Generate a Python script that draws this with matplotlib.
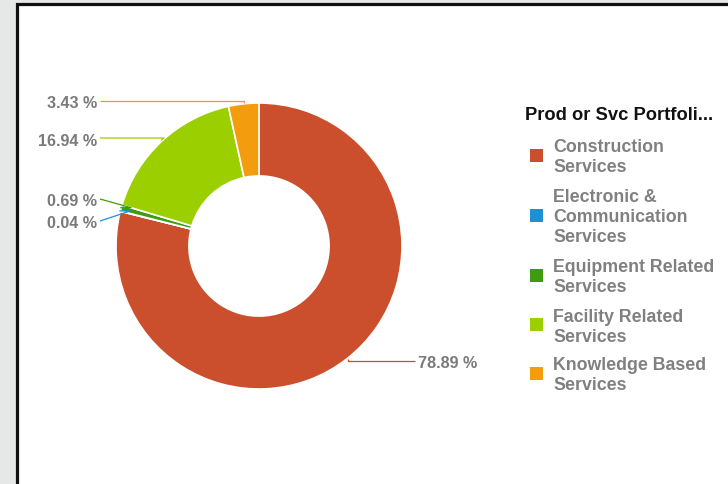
import matplotlib.pyplot as plt
from matplotlib.patches import Rectangle
import numpy as np

# data
categories = ["Construction Services", "Electronic & Communication Services",
              "Equipment Related Services", "Facility Related Services",
              "Knowledge Based Services"]
legend_labels = ["Construction\nServices", "Electronic &\nCommunication\nServices",
                 "Equipment Related\nServices", "Facility Related\nServices",
                 "Knowledge Based\nServices"]
shares = [78.89, 0.04, 0.69, 16.94, 3.43]
colors = ["#cc4f2d", "#1e90d6", "#3f9c0f", "#9ccf00", "#f39c0d"]
legend_title = "Prod or Svc Portfoli..."

# layout (pixels from top-left)
W, H = 728, 485
label_y = [362, 222, 200, 139, 102]
knee_mode = ["label", "anchor", "anchor", "label", "label"]
knee_dx = [0, 11, 11, 3, 0]
cx, cy, R = 259, 247, 143
TXT_DY = 2  # text baseline nudge

FONT = "Liberation Sans"


def Y(py):
    return H - py


fig = plt.figure(figsize=(W / 100, H / 100), dpi=100, facecolor="#e5e8e7")
ax = fig.add_axes([0, 0, 1, 1])

# white panel with dark frame
ax.add_patch(Rectangle((16.5, -20), 800, Y(5) + 20, facecolor="white",
                       edgecolor="#111111", linewidth=2.3, zorder=0))

wedges, _ = ax.pie(shares, colors=colors, startangle=90, counterclock=False,
                   center=(cx, Y(cy)), radius=R, frame=True,
                   wedgeprops=dict(width=R * 0.51, edgecolor="white", linewidth=1.2))

for w, v, ly, mode, dx, col in zip(wedges, shares, label_y, knee_mode, knee_dx, colors):
    mid = np.deg2rad((w.theta1 + w.theta2) / 2)
    ax_ = cx + (R + 1) * np.cos(mid)
    ay_ = cy - (R + 1) * np.sin(mid)
    right = np.cos(mid) > 0
    s = 1 if right else -1
    lx = 415 if right else 100
    ky = ly if mode == "label" else ay_
    kx = ax_ - s * dx
    ax.plot([lx, kx, ax_], [Y(ly), Y(ky), Y(ay_)], color=col, lw=0.9,
            solid_capstyle="butt", zorder=3)
    ax.text(lx + s * 3, Y(ly + TXT_DY), f"{v:.2f} %", ha="left" if right else "right",
            va="center", fontsize=11.6, fontweight="bold", color="#7a7a7a",
            family=FONT)

# legend
ax.text(525, Y(114 + TXT_DY), legend_title, ha="left", va="center", fontsize=13.2,
        fontweight="bold", color="#111111", family=FONT)
entry_top = [146, 196, 266, 315, 364]
for lab, col, y0 in zip(legend_labels, colors, entry_top):
    lines = lab.split("\n")
    ys = [y0 + 20 * i for i in range(len(lines))]
    my = np.mean(ys)
    ax.add_patch(Rectangle((529.5, Y(my) - 6.5), 13, 13, facecolor=col,
                           edgecolor="none", zorder=3))
    for t, yy in zip(lines, ys):
        ax.text(553, Y(yy + TXT_DY), t, ha="left", va="center", fontsize=12.8,
                fontweight="bold", color="#808080", family=FONT)

ax.set_xlim(0, W)
ax.set_ylim(0, H)
ax.set_aspect("auto")
ax.axis("off")

fig.savefig("out.png", dpi=100, facecolor=fig.get_facecolor())
